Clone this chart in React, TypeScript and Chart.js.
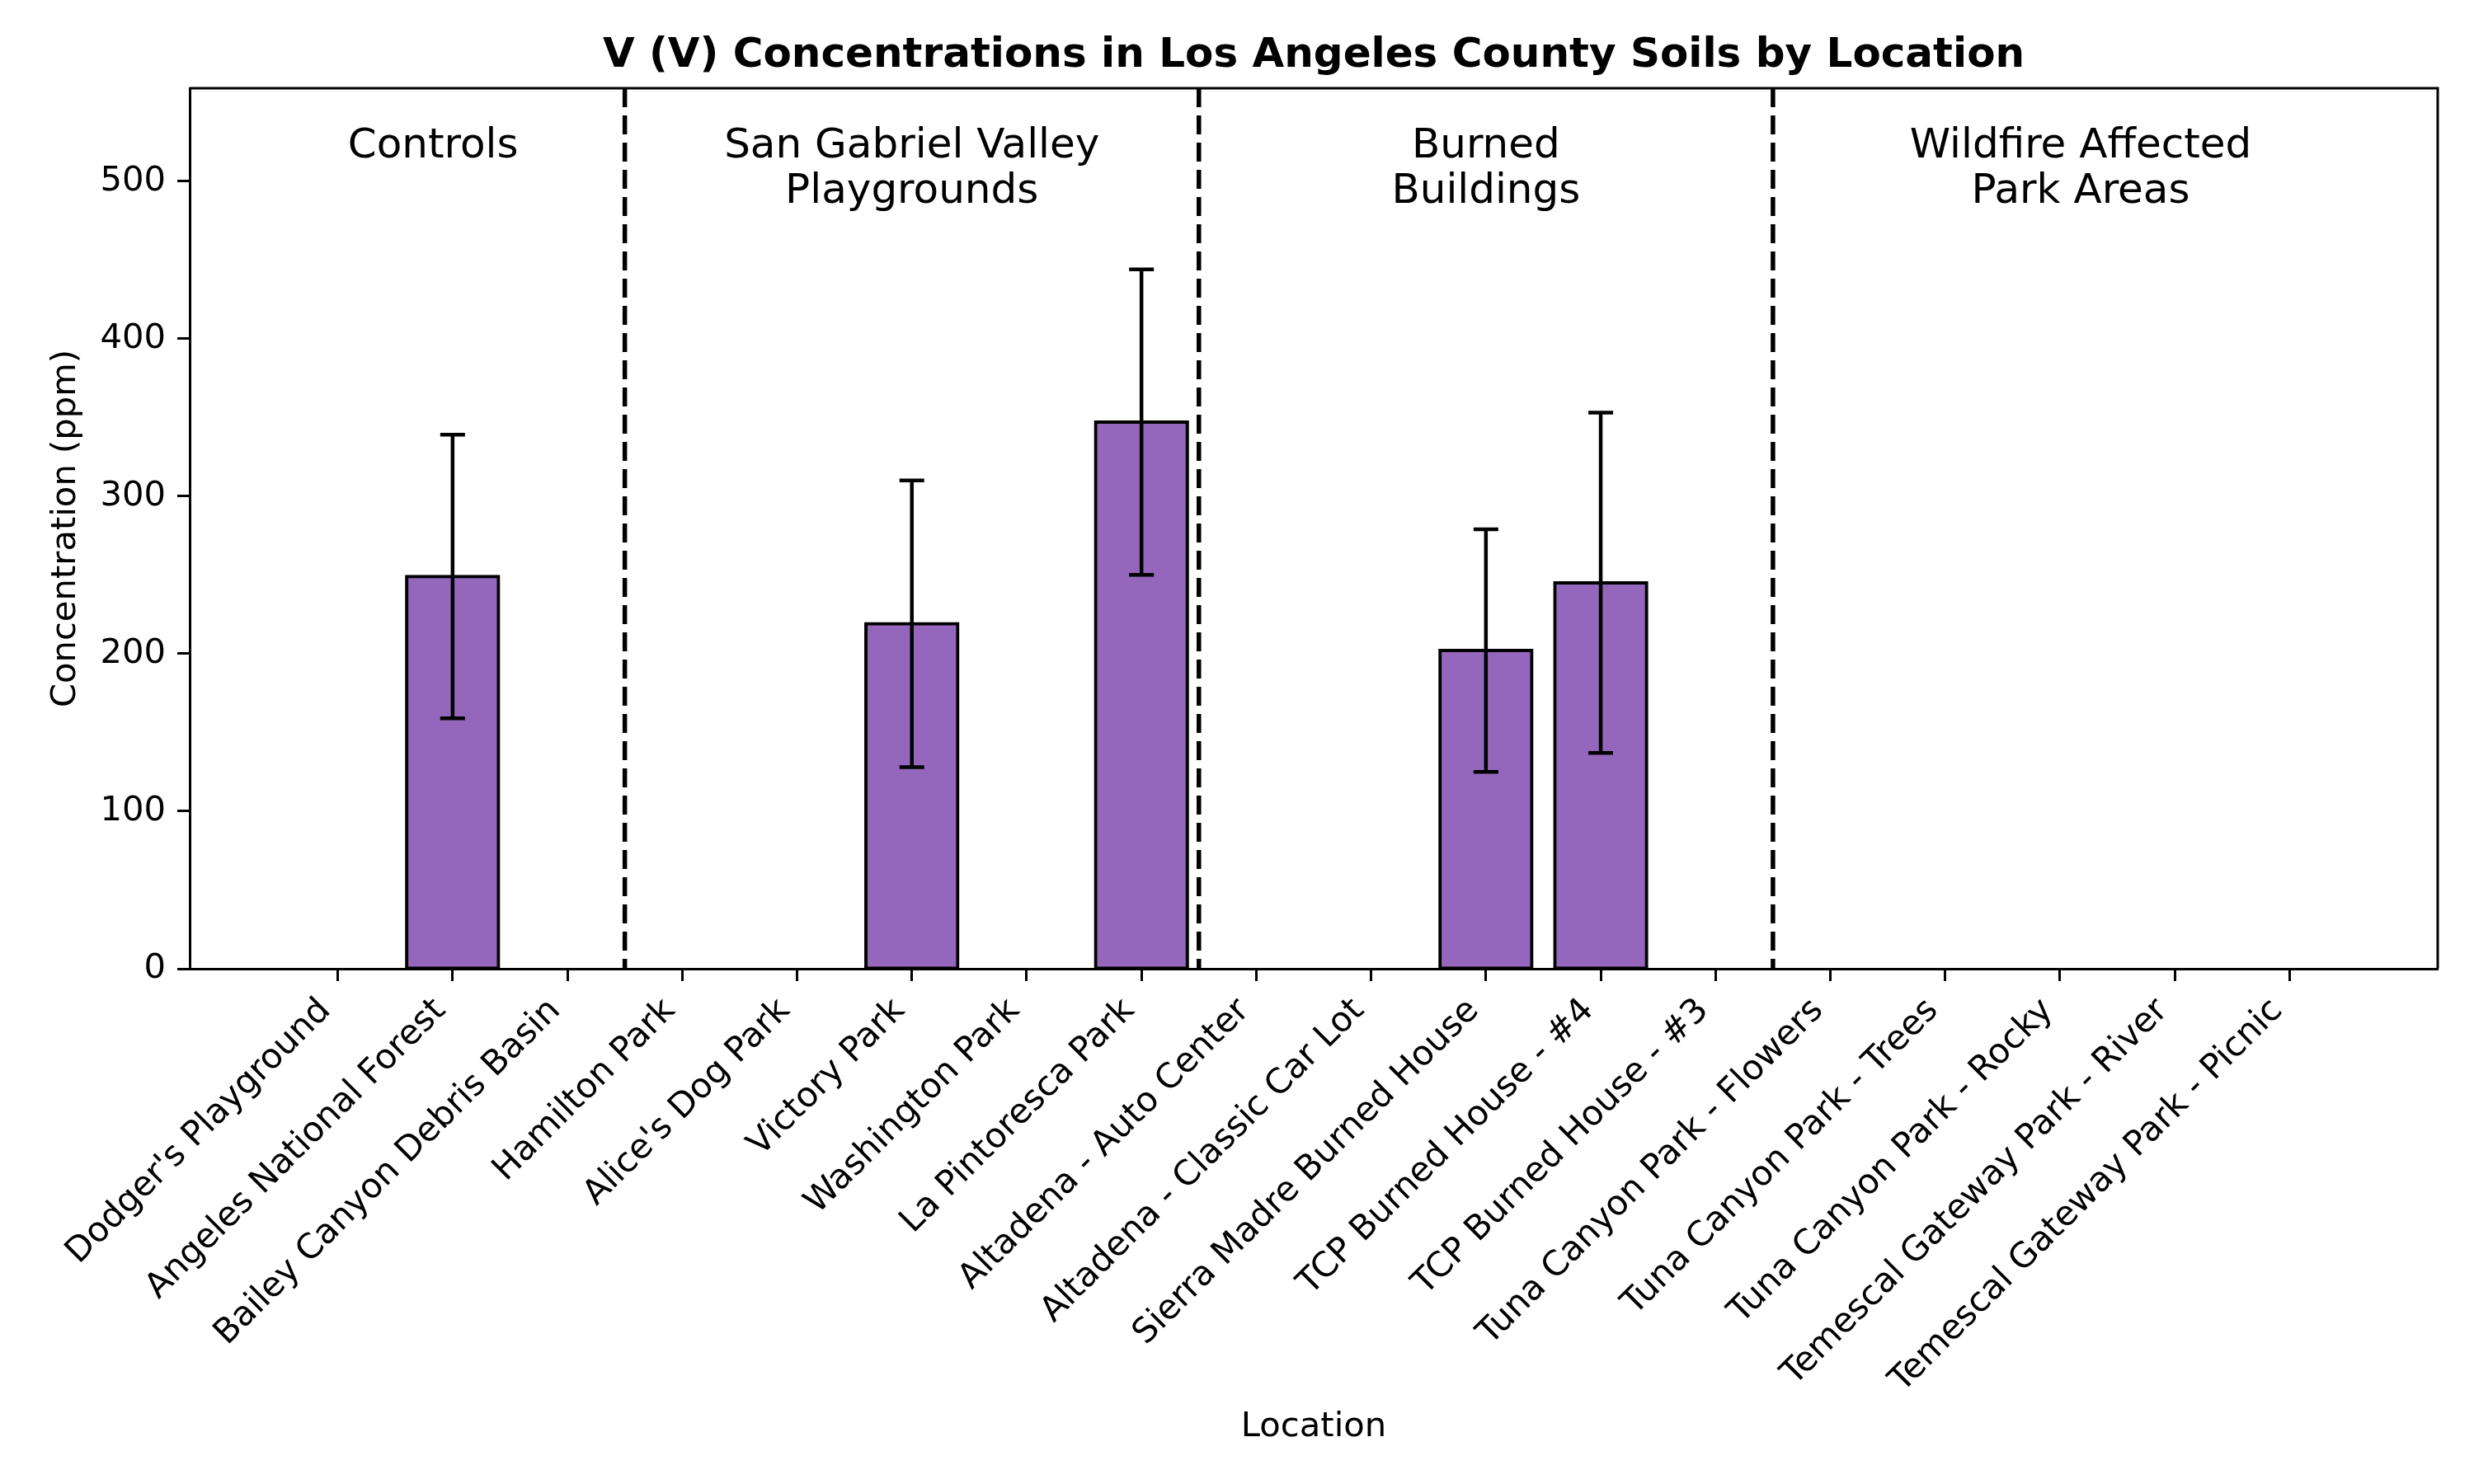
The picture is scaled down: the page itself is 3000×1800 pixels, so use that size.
import React, { useEffect, useRef } from 'react';
import { Chart, registerables } from 'chart.js';

Chart.register(...registerables);

const categories = [
  "Dodger's Playground",
  'Angeles National Forest',
  'Bailey Canyon Debris Basin',
  'Hamilton Park',
  "Alice's Dog Park",
  'Victory Park',
  'Washington Park',
  'La Pintoresca Park',
  'Altadena - Auto Center',
  'Altadena - Classic Car Lot',
  'Sierra Madre Burned House',
  'TCP Burned House - #4',
  'TCP Burned House - #3',
  'Tuna Canyon Park - Flowers',
  'Tuna Canyon Park - Trees',
  'Tuna Canyon Park - Rocky',
  'Temescal Gateway Park - River',
  'Temescal Gateway Park - Picnic',
];

const concentrations = [0, 249, 0, 0, 0, 219, 0, 347, 0, 0, 202, 245, 0, 0, 0, 0, 0, 0];
const errors = [0, 90, 0, 0, 0, 91, 0, 97, 0, 0, 77, 108, 0, 0, 0, 0, 0, 0];

const yTicks = [0, 100, 200, 300, 400, 500];

const groupLabels = [
  ['Controls'],
  ['San Gabriel Valley', 'Playgrounds'],
  ['Burned', 'Buildings'],
  ['Wildfire Affected', 'Park Areas'],
];
const groupCenters = [0.83, 5, 10, 15.18];
const separators = [2.5, 7.5, 12.5];

const X_MIN = -1.29;
const X_MAX = 18.29;
const Y_MAX = 559;

const TITLE = 'V (V) Concentrations in Los Angeles County Soils by Location';
const X_LABEL = 'Location';
const Y_LABEL = 'Concentration (ppm)';

const FONT = "'DejaVu Sans', sans-serif";
const TICK_SIZE = 41.7;

const overlayPlugin = {
  id: 'overlay',
  afterDatasetsDraw(chart: any) {
    const { ctx, chartArea, scales } = chart;
    const xs = scales.x;
    const ys = scales.y;
    ctx.save();
    // error bars
    ctx.strokeStyle = '#000';
    ctx.lineWidth = 4.5;
    ctx.lineCap = 'butt';
    concentrations.forEach((v, i) => {
      const e = errors[i];
      if (!e) return;
      const px = xs.getPixelForValue(i);
      const top = ys.getPixelForValue(v + e);
      const bot = ys.getPixelForValue(v - e);
      ctx.beginPath();
      ctx.moveTo(px, top);
      ctx.lineTo(px, bot);
      ctx.moveTo(px - 15, top);
      ctx.lineTo(px + 15, top);
      ctx.moveTo(px - 15, bot);
      ctx.lineTo(px + 15, bot);
      ctx.stroke();
    });
    // separators
    ctx.setLineDash([23, 10]);
    ctx.lineWidth = 5.5;
    separators.forEach((s) => {
      const px = xs.getPixelForValue(s);
      ctx.beginPath();
      ctx.moveTo(px, chartArea.top);
      ctx.lineTo(px, chartArea.bottom);
      ctx.stroke();
    });
    ctx.setLineDash([]);
    // top / right spines
    ctx.lineWidth = 3;
    ctx.beginPath();
    ctx.moveTo(chartArea.left, chartArea.top);
    ctx.lineTo(chartArea.right, chartArea.top);
    ctx.lineTo(chartArea.right, chartArea.bottom);
    ctx.stroke();
    // x tick labels (rotated 45°, bbox top-right at tick)
    ctx.fillStyle = '#000';
    ctx.font = `${TICK_SIZE}px ${FONT}`;
    ctx.textAlign = 'right';
    ctx.textBaseline = 'alphabetic';
    const asc = TICK_SIZE * 0.76;
    const desc = TICK_SIZE * 0.24;
    const r = Math.SQRT1_2;
    const yTop = chartArea.bottom + 15 + 14.6;
    categories.forEach((c, i) => {
      const px = xs.getPixelForValue(i);
      ctx.save();
      ctx.translate(px - r * desc, yTop + r * asc);
      ctx.rotate(-Math.PI / 4);
      ctx.fillText(c, 0, 0);
      ctx.restore();
    });
    // group labels
    ctx.font = `50px ${FONT}`;
    ctx.textAlign = 'center';
    ctx.textBaseline = 'alphabetic';
    groupLabels.forEach((lines, gi) => {
      const px = xs.getPixelForValue(groupCenters[gi]);
      lines.forEach((line, li) => {
        ctx.fillText(line, px, chartArea.top + 84 + li * 55);
      });
    });
    // title
    const cx = (chartArea.left + chartArea.right) / 2;
    ctx.font = `bold 50px ${FONT}`;
    ctx.fillText(TITLE, cx, 81);
    // x label
    ctx.font = `${TICK_SIZE}px ${FONT}`;
    ctx.fillText(X_LABEL, cx, 1742);
    // y label
    ctx.save();
    ctx.translate(80, (chartArea.top + chartArea.bottom) / 2);
    ctx.rotate(-Math.PI / 2);
    ctx.textBaseline = 'middle';
    ctx.fillText(Y_LABEL, 0, 0);
    ctx.restore();
    ctx.restore();
  },
};

export default function App() {
  const canvasRef = useRef<HTMLCanvasElement | null>(null);

  useEffect(() => {
    document.body.style.margin = '0';
    const canvas = canvasRef.current;
    if (!canvas) return;
    const tickFont = { family: FONT, size: TICK_SIZE };
    const chart = new Chart(canvas, {
      type: 'bar',
      data: {
        datasets: [
          {
            data: concentrations.map((v, i) => ({ x: i, y: v })),
            backgroundColor: '#9467bd',
            borderColor: '#000',
            borderWidth: 4,
            borderSkipped: false,
            inflateAmount: 2,
            barPercentage: 0.8,
            categoryPercentage: 1.0,
          },
        ],
      },
      options: {
        responsive: false,
        animation: false,
        devicePixelRatio: 1,
        layout: { padding: { left: 0, top: 107, right: 44, bottom: 0 } },
        plugins: {
          legend: { display: false },
          title: { display: false },
          tooltip: { enabled: false },
        },
        scales: {
          x: {
            type: 'linear',
            min: X_MIN,
            max: X_MAX,
            offset: false,
            afterBuildTicks: (s: any) => {
              s.ticks = categories.map((_, i) => ({ value: i }));
            },
            afterFit: (s: any) => {
              s.height = 625;
            },
            ticks: {
              display: false,
              autoSkip: false,
              maxRotation: 45,
              minRotation: 45,
            },
            grid: {
              display: true,
              offset: false,
              drawOnChartArea: false,
              drawTicks: true,
              tickLength: 15,
              tickWidth: 3,
              tickColor: '#000',
            },
            border: { display: true, color: '#000', width: 3 },
          },
          y: {
            min: 0,
            max: Y_MAX,
            afterBuildTicks: (s: any) => {
              s.ticks = yTicks.map((v) => ({ value: v }));
            },
            afterFit: (s: any) => {
              s.width = 230;
            },
            ticks: {
              padding: 14,
              color: '#000',
              font: tickFont,
            },
            grid: {
              display: true,
              drawOnChartArea: false,
              drawTicks: true,
              tickLength: 15,
              tickWidth: 3,
              tickColor: '#000',
            },
            border: { display: true, color: '#000', width: 3 },
          },
        },
      } as any,
      plugins: [overlayPlugin],
    });
    return () => chart.destroy();
  }, []);

  return (
    <div style={{ width: 3000, height: 1800, background: '#fff' }}>
      <canvas ref={canvasRef} width={3000} height={1800} style={{ display: 'block' }} />
    </div>
  );
}
